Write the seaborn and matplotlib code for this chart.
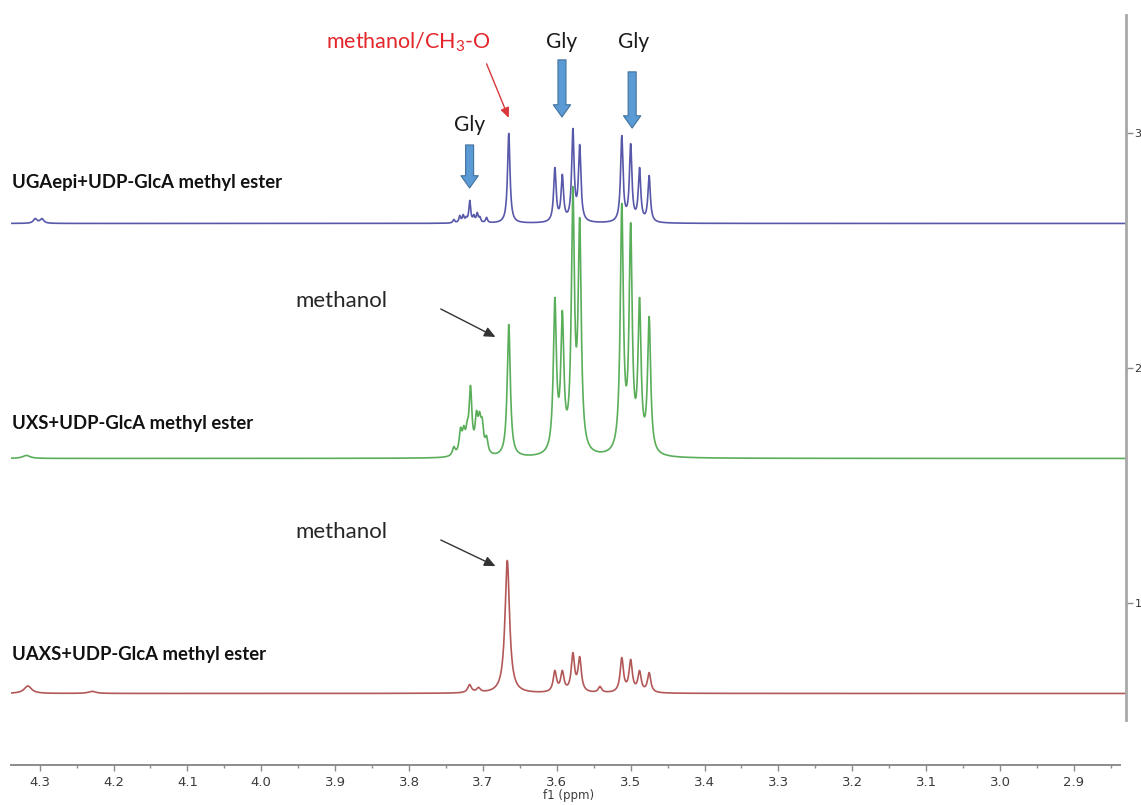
import numpy as np
import pandas as pd
import matplotlib
matplotlib.use("Agg")
import matplotlib.pyplot as plt
import seaborn as sns
from matplotlib.ticker import MultipleLocator

sns.set_theme(style="ticks")
plt.rcParams["font.family"] = ["Lato", "DejaVu Sans"]

#
# Spectra: peak shift [ppm], peak height above
# baseline [intensity units], half width [ppm]
#

samples = ["UGAepi+UDP-GlcA methyl ester",
           "UXS+UDP-GlcA methyl ester",
           "UAXS+UDP-GlcA methyl ester"]
baselines = [2.615, 1.615, 0.615]
colors = ["#5858aa", "#5aae5a", "#b35858"]

blue_shift = [4.306, 4.297, 3.7394, 3.7313, 3.7267, 3.7226, 3.7178, 3.7123,
              3.7077, 3.7042, 3.6951, 3.665, 3.6026, 3.5925, 3.5782, 3.569,
              3.512, 3.500, 3.488, 3.475]
blue_height = [0.021, 0.021, 0.017, 0.034, 0.038, 0.030, 0.098, 0.038,
               0.047, 0.030, 0.026, 0.383, 0.238, 0.209, 0.404, 0.336,
               0.374, 0.340, 0.238, 0.204]
blue_width = [0.003, 0.003] + [0.0015] * 9 + [0.0020] * 9

green_shift = [4.318, 3.7394, 3.7303, 3.7259, 3.7213, 3.7168, 3.7087, 3.7046,
               3.701, 3.6951, 3.665, 3.6026, 3.5925, 3.5782, 3.569,
               3.512, 3.500, 3.488, 3.475]
green_height = [0.013, 0.051, 0.132, 0.140, 0.162, 0.311, 0.204, 0.200,
                0.174, 0.098, 0.570, 0.685, 0.630, 1.157, 1.026,
                1.085, 1.004, 0.685, 0.604]
green_width = [0.006] + [0.0023] * 9 + [0.0025] * 9

red_shift = [4.316, 4.229, 3.718, 3.706, 3.667, 3.6026, 3.5925, 3.5782,
             3.569, 3.5416, 3.512, 3.500, 3.488, 3.475]
red_height = [0.032, 0.009, 0.038, 0.026, 0.566, 0.098, 0.098, 0.174,
              0.157, 0.030, 0.153, 0.145, 0.098, 0.089]
red_width = [0.006, 0.006, 0.003, 0.003, 0.0037] + [0.0027] * 9

peaks = [(blue_shift, blue_height, blue_width),
         (green_shift, green_height, green_width),
         (red_shift, red_height, red_width)]

xmin, xmax = 4.3388, 2.8295
ppm = np.linspace(xmin, xmax, 8000)


def lorentz(x, x0, w):
    return 1.0 / (1.0 + ((x - x0) / w) ** 2)


def spectrum(shift, height, width, base):
    shift = np.array(shift)
    width = np.array(width)
    # amplitudes so the summed lines reach the read peak heights
    m = lorentz(shift[:, None], shift[None, :], width[None, :])
    amp = np.clip(np.linalg.solve(m, np.array(height)), 0, None)
    y = np.full_like(ppm, base)
    for a, s, w in zip(amp, shift, width):
        y += a * lorentz(ppm, s, w)
    return y


frames = []
for name, base, (s, h, w) in zip(samples, baselines, peaks):
    frames.append(pd.DataFrame({"ppm": ppm,
                                "intensity": spectrum(s, h, w, base),
                                "sample": name}))
df = pd.concat(frames, ignore_index=True)

fig = plt.figure(figsize=(11.41, 8.05), dpi=100)
ax = fig.add_axes([0.00964, 0.04969, 0.97721, 0.93168])

sns.lineplot(data=df, x="ppm", y="intensity", hue="sample",
             palette=dict(zip(samples, colors)), estimator=None, sort=False,
             legend=False, linewidth=1.2, ax=ax)

ax.set_xlim(xmin, xmax)
ax.set_ylim(0.3106, 3.502)

# axes look
ax.spines["top"].set_visible(False)
ax.spines["left"].set_visible(False)
ax.spines["bottom"].set_color("#8c8c8c")
ax.spines["bottom"].set_linewidth(1.4)
ax.spines["bottom"].set_bounds(xmin, 2.8376)
ax.spines["right"].set_color("#a8a8a8")
ax.spines["right"].set_linewidth(2)
ax.spines["right"].set_bounds(0.502, 3.502)

ax.xaxis.set_major_locator(MultipleLocator(0.1))
ax.xaxis.set_minor_locator(MultipleLocator(0.05))
ax.tick_params(axis="x", which="major", direction="out", length=4, width=1,
               color="#8c8c8c", labelsize=9.5, labelcolor="#3c3c3c", pad=4,
               labelfontfamily="DejaVu Sans")
ax.tick_params(axis="x", which="minor", direction="out", length=2, width=1,
               color="#8c8c8c")

ax.yaxis.tick_right()
ax.set_yticks([1, 2, 3])
ax.tick_params(axis="y", direction="out", length=5, width=1, color="#8c8c8c",
               labelsize=8, labelcolor="#333333", pad=1,
               labelfontfamily="DejaVu Sans", left=False, right=True)
ax.set_ylabel("")
ax.set_xlabel("f1 (ppm)", fontsize=8.5, color="#3c3c3c", labelpad=0,
              family="DejaVu Sans")

# sample labels
for name, y in zip(samples, [2.791, 1.762, 0.779]):
    ax.text(4.337, y, name, fontsize=13.3, fontweight="bold", color="#111111",
            ha="left", va="center")

# Gly block arrows
block = dict(arrowstyle="simple,head_length=0.55,head_width=0.78,tail_width=0.36",
             mutation_scale=16, fc="#5b9bd5", ec="#41719c", lw=0.8,
             shrinkA=0, shrinkB=0)
for x, y0, y1 in [(3.718, 2.949, 2.766), (3.593, 3.311, 3.068),
                  (3.498, 3.260, 3.021)]:
    ax.annotate("", xy=(x, y1), xytext=(x, y0), arrowprops=block)

for x, y in [(3.718, 3.034), (3.593, 3.387), (3.496, 3.387)]:
    ax.text(x, y, "Gly", fontsize=15, color="#1a1a1a", ha="center",
            va="center")

ax.text(3.801, 3.387, r"methanol/CH$_\mathregular{3}$-O", fontsize=15.5,
        color="#e3262b", ha="center", va="center")
ax.annotate("", xy=(3.665, 3.064), xytext=(3.695, 3.294),
            arrowprops=dict(arrowstyle="-|>,head_length=0.5,head_width=0.22",
                            color="#d9383a", lw=1, shrinkA=0, shrinkB=0))

for y_txt, tail, head in [(2.285, (3.757, 2.251), (3.683, 2.132)),
                          (1.302, (3.757, 1.268), (3.683, 1.157))]:
    ax.text(3.892, y_txt, "methanol", fontsize=16, color="#262626",
            ha="center", va="center")
    ax.annotate("", xy=head, xytext=tail,
                arrowprops=dict(arrowstyle="-|>,head_length=0.55,head_width=0.25",
                                color="#333333", lw=1, shrinkA=0, shrinkB=0))

fig.savefig("out.png", dpi=100)
plt.close()
